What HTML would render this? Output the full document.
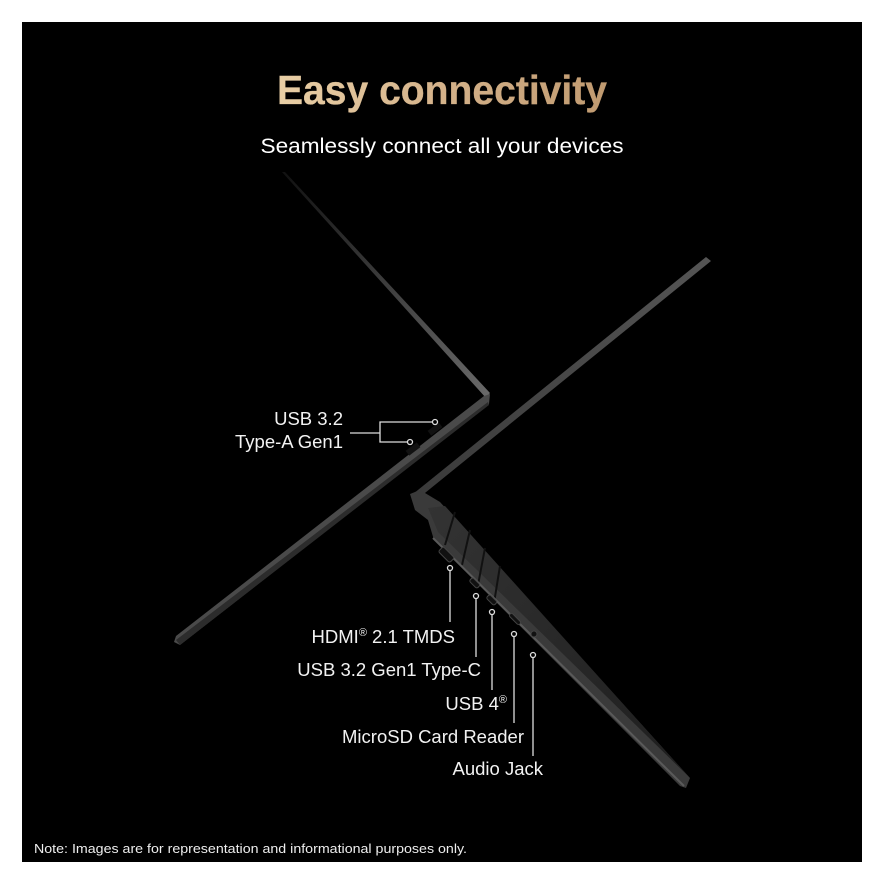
<!DOCTYPE html>
<html><head><meta charset="utf-8"><style>
html,body{margin:0;padding:0;background:#fff}
svg{display:block}
text{font-family:"Liberation Sans",sans-serif}
</style></head><body>
<svg width="884" height="884" viewBox="0 0 884 884" xmlns="http://www.w3.org/2000/svg">
<defs>
<linearGradient id="gold" x1="0" x2="1" y1="0" y2="0">
<stop offset="0" stop-color="#e9cfa6"/><stop offset="0.5" stop-color="#d4b28a"/><stop offset="1" stop-color="#c09a70"/>
</linearGradient>
<linearGradient id="lid1" x1="0" y1="0" x2="1" y2="1">
<stop offset="0" stop-color="#111"/><stop offset="1" stop-color="#6a6a6a"/>
</linearGradient>
<linearGradient id="lid2" x1="1" y1="0" x2="0" y2="1">
<stop offset="0" stop-color="#555"/><stop offset="1" stop-color="#3a3a3a"/>
</linearGradient>
<linearGradient id="deck" x1="0" y1="0" x2="1" y2="1">
<stop offset="0" stop-color="#333"/><stop offset="1" stop-color="#1e1e1e"/>
</linearGradient>
</defs>
<rect x="22" y="22" width="840" height="840" fill="#000"/>
<text x="442" y="104" text-anchor="middle" font-size="41" font-weight="bold" fill="url(#gold)" stroke="url(#gold)" stroke-width="0.3" textLength="330" lengthAdjust="spacingAndGlyphs">Easy connectivity</text>
<text x="442" y="153" text-anchor="middle" font-size="21" fill="#fff" textLength="363" lengthAdjust="spacingAndGlyphs">Seamlessly connect all your devices</text>

<polygon points="282,172 285,172 490,393 486,398" fill="url(#lid1)"/>
<polygon points="484,396 490,394 489,404 180,645 174,642 176,636" fill="#4a4a4a"/>
<polygon points="176,640 488,402 489,405 180,645" fill="#2c2c2c"/>
<rect x="428" y="426" width="14" height="6" fill="#111" transform="rotate(-37 435 429)"/>
<rect x="406" y="446" width="14" height="6" fill="#111" transform="rotate(-37 413 449)"/>

<polygon points="706,257 711,261 420,497 413,494" fill="url(#lid2)"/>
<polygon points="410,494 420,490 440,502 690,778 686,788 680,786 434,540 428,520 415,510" fill="#3a3a3a"/>
<polygon points="428,508 445,506 688,776 438,532" fill="url(#deck)"/>
<g stroke="#111" stroke-width="2">
<line x1="455" y1="512" x2="445" y2="545"/><line x1="470" y1="530" x2="462" y2="565"/>
<line x1="485" y1="548" x2="478" y2="585"/><line x1="500" y1="566" x2="494" y2="603"/>
</g>
<line x1="433" y1="538" x2="684" y2="786" stroke="#5a5a5a" stroke-width="2"/>
<g fill="#111" stroke="#444">
<rect x="443" y="547" width="7" height="16" rx="2" transform="rotate(-45 446 555)"/>
<rect x="472" y="578" width="5" height="11" rx="2" transform="rotate(-45 474 583)"/>
<rect x="489" y="595" width="5" height="11" rx="2" transform="rotate(-45 491 600)"/>
<rect x="513" y="612" width="4" height="14" rx="2" transform="rotate(-45 515 619)"/>
<circle cx="534" cy="634" r="3"/>
</g>

<g stroke="#ddd" stroke-width="1.3" fill="#000">
<polyline points="350,433 380,433" fill="none"/>
<polyline points="432,422 380,422 380,442 407,442" fill="none"/>
<circle cx="435" cy="422" r="2.5"/><circle cx="410" cy="442" r="2.5"/>
<line x1="450" y1="571" x2="450" y2="622"/><circle cx="450" cy="568" r="2.5"/>
<line x1="476" y1="598" x2="476" y2="657"/><circle cx="476" cy="596" r="2.5"/>
<line x1="492" y1="615" x2="492" y2="690"/><circle cx="492" cy="612" r="2.5"/>
<line x1="514" y1="637" x2="514" y2="723"/><circle cx="514" cy="634" r="2.5"/>
<line x1="533" y1="658" x2="533" y2="756"/><circle cx="533" cy="655" r="2.5"/>
</g>
<g fill="#f2f2f2" font-size="18.5" text-anchor="end">
<text x="343" y="425">USB 3.2</text>
<text x="343" y="448">Type-A Gen1</text>
<text x="455" y="643">HDMI<tspan font-size="11" dy="-7">®</tspan><tspan dy="7"> 2.1 TMDS</tspan></text>
<text x="481" y="676">USB 3.2 Gen1 Type-C</text>
<text x="507" y="710">USB 4<tspan font-size="11" dy="-7">®</tspan></text>
<text x="524" y="743">MicroSD Card Reader</text>
<text x="543" y="775">Audio Jack</text>
</g>
<text x="34" y="853" font-size="13" fill="#eee" textLength="433" lengthAdjust="spacingAndGlyphs">Note: Images are for representation and informational purposes only.</text>
</svg>
</body></html>
